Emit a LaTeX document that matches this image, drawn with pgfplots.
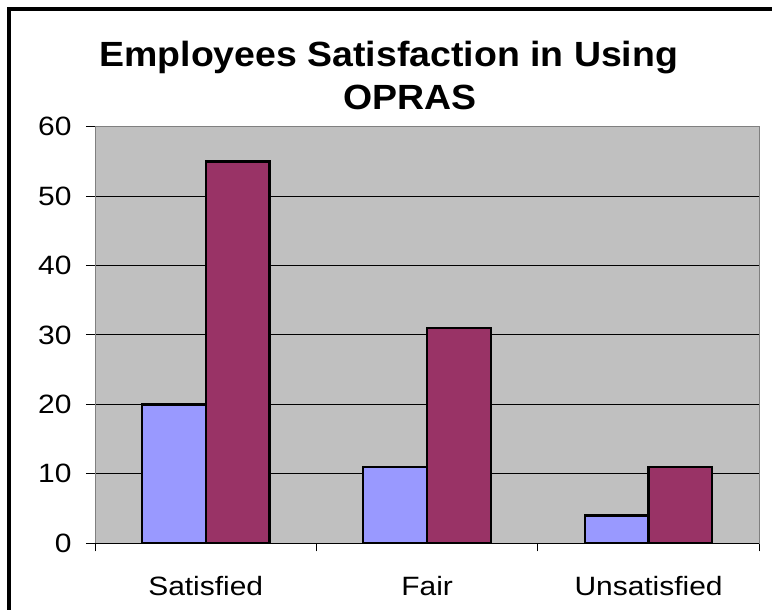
\documentclass[border=0pt]{standalone}
\usepackage{fontspec}
\setmainfont{Liberation Sans}[FakeStretch=1.13]
\newfontfamily\titlefont{Liberation Sans}[FakeStretch=1.07]
\usepackage{pgfplots}
\pgfplotsset{compat=1.18}
\definecolor{barA}{HTML}{9999FF}
\definecolor{barB}{HTML}{993366}
\definecolor{plotbg}{HTML}{C0C0C0}
\definecolor{frameg}{HTML}{808080}
\begin{document}
\begin{tikzpicture}
\useasboundingbox (0bp,0bp) rectangle (772bp,610bp);
\draw[line width=3.3bp] (9bp,-5bp) -- (9bp,601bp) -- (780bp,601bp);
\node[anchor=base, font=\titlefont\bfseries\fontsize{35bp}{40bp}\selectfont] at (388.8bp,543.5bp) {Employees Satisfaction in Using};
\node[anchor=base, font=\titlefont\bfseries\fontsize{35bp}{40bp}\selectfont] at (410bp,500bp) {OPRAS};
\begin{axis}[
  at={(95bp,66.7bp)}, anchor=south west,
  scale only axis, width=664.3bp, height=416.6bp,
  xmin=-0.5, xmax=2.5, ymin=0, ymax=60,
  ytick={0,10,...,60},
  xtick={0,1,2}, xticklabels={Satisfied,Fair,Unsatisfied},
  minor xtick={-0.5,0.5,1.5,2.5},
  /pgf/number format/assume math mode=true,
  tick label style={font=\fontsize{26.5bp}{30bp}\selectfont},
  axis background/.style={fill=plotbg},
  axis line style={draw=frameg, line width=1bp},
  ymajorgrids, grid style={black, line width=1bp},
  tick align=outside,
  tick style={black, line width=1bp},
  xtick style={draw=none},
  minor x tick style={black, line width=1bp, draw=black},
  major tick length=9bp, minor tick length=8bp,
  ytick pos=left, xtick pos=bottom,
  yticklabel style={xshift=-11bp},
  xticklabel style={yshift=-20bp},
  ybar=0pt, bar width=0.288,
]
\addplot[fill=barA, draw=black, line width=2.2bp, bar shift=-0.144] coordinates {(0,20) (1,11) (2,4)};
\addplot[fill=barB, draw=black, line width=2.2bp, bar shift=0.144] coordinates {(0,55) (1,31) (2,11)};
\draw[black, line width=1.3bp] (axis cs:-0.5,0) -- (axis cs:2.5,0);
\end{axis}
\end{tikzpicture}
\end{document}
